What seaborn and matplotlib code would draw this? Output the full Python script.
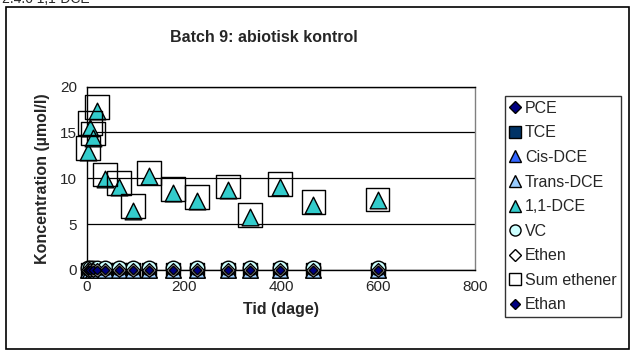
import matplotlib
matplotlib.use("Agg")
import matplotlib.pyplot as plt
import seaborn as sns
import pandas as pd
from matplotlib.lines import Line2D
from matplotlib.patches import Rectangle

# ---- data ----
days = [3, 7, 13, 21, 38, 67, 96, 129, 178, 227, 291, 336, 398, 467, 599]
pce = [0] * 15
tce = [0] * 15
cis_dce = [0] * 15
trans_dce = [0] * 15
dce_11 = [12.9, 15.5, 14.4, 17.3, 9.9, 9.1, 6.45, 10.2, 8.45, 7.57, 8.67, 5.83, 9.1, 7.07, 7.6]
vc = [0.2] * 15
ethen = [0] * 15
sum_ethener = [13.3, 16.0, 14.9, 17.8, 10.4, 9.5, 7.0, 10.6, 8.8, 7.95, 9.1, 6.0, 9.35, 7.4, 7.7]
ethan = [0] * 15

series_names = ["PCE", "TCE", "Cis-DCE", "Trans-DCE", "1,1-DCE", "VC", "Ethen", "Sum ethener", "Ethan"]
series_vals = [pce, tce, cis_dce, trans_dce, dce_11, vc, ethen, sum_ethener, ethan]
x_ticks = [0, 200, 400, 600, 800]
y_ticks = [0, 5, 10, 15, 20]

# styles: marker, plot size (pt), face, legend size
styles = {
    "PCE": ("D", 7, "#000080", 6),
    "TCE": ("s", 10, "#003366", 8),
    "Cis-DCE": ("^", 11, "#3366FF", 8),
    "Trans-DCE": ("^", 11, "#99CCFF", 8),
    "1,1-DCE": ("^", 12, "#33CCCC", 8),
    "VC": ("o", 10.5, "#CCFFFF", 8),
    "Ethen": ("D", 7, "#FFFFFF", 6),
    "Sum ethener": ("s", 17, "none", 8),
    "Ethan": ("D", 4.5, "#000080", 5),
}

sns.set_style("white")
plt.rcParams["font.family"] = ["Liberation Sans", "DejaVu Sans"]

fig = plt.figure(figsize=(6.32, 3.52), dpi=100)
ax = fig.add_axes([0.137, 0.233, 0.615, 0.521])

for i, (name, vals) in enumerate(zip(series_names, series_vals)):
    df = pd.DataFrame({"Tid": days, "Konc": vals})
    mk, ms, fc, _ = styles[name]
    sns.scatterplot(data=df, x="Tid", y="Konc", ax=ax, marker=mk, s=ms ** 2,
                    color=fc, edgecolor="black", linewidth=1.0,
                    zorder=3 + i, clip_on=False, legend=False)

ax.set_xlim(0, 800)
ax.set_ylim(0, 20)
ax.set_xticks(x_ticks)
ax.set_yticks(y_ticks)
ax.set_xticklabels([str(v) for v in x_ticks], fontsize=11)
ax.set_yticklabels([str(v) for v in y_ticks], fontsize=11)
ax.tick_params(axis="both", direction="out", length=4, width=1, color="black", pad=3)
ax.grid(axis="y", color="black", linewidth=0.9)
ax.grid(axis="x", visible=False)
for s in ["left", "bottom", "top"]:
    ax.spines[s].set_color("black")
    ax.spines[s].set_linewidth(1)
ax.spines["right"].set_color("#808080")
ax.spines["right"].set_linewidth(1)

ax.set_xlabel("Tid (dage)", fontsize=11.5, fontweight="bold", labelpad=6)
ax.set_ylabel("Koncentration (µmol/l)", fontsize=11.5, fontweight="bold", labelpad=7)

fig.text(264 / 632, 1 - 37 / 352, "Batch 9: abiotisk kontrol", fontsize=11.5,
         fontweight="bold", ha="center", va="center")
fig.text(2 / 632, 1 - 3 / 352, "2.4.6 1,1-DCE", fontsize=10, ha="left", va="baseline")

# outer frame
fig.patches.append(Rectangle((6 / 632, 3 / 352), 623 / 632, 1 - 10 / 352,
                             transform=fig.transFigure, fill=False,
                             edgecolor="black", linewidth=1.2))

handles = []
for name in series_names:
    mk, ms, fc, lms = styles[name]
    handles.append(Line2D([], [], linestyle="none", marker=mk, markersize=lms,
                          markerfacecolor=fc if fc != "none" else "white",
                          markeredgecolor="black", markeredgewidth=1.0))
leg = fig.legend(handles, series_names, loc="upper left",
                 bbox_to_anchor=(505 / 632, 1 - 96 / 352), frameon=True,
                 fontsize=11.5, handlelength=0.7, handletextpad=0.25,
                 labelspacing=0.6, borderpad=0.3, borderaxespad=0,
                 fancybox=False)
leg.get_frame().set_edgecolor("black")
leg.get_frame().set_linewidth(1)

fig.savefig("out.png", dpi=100)
